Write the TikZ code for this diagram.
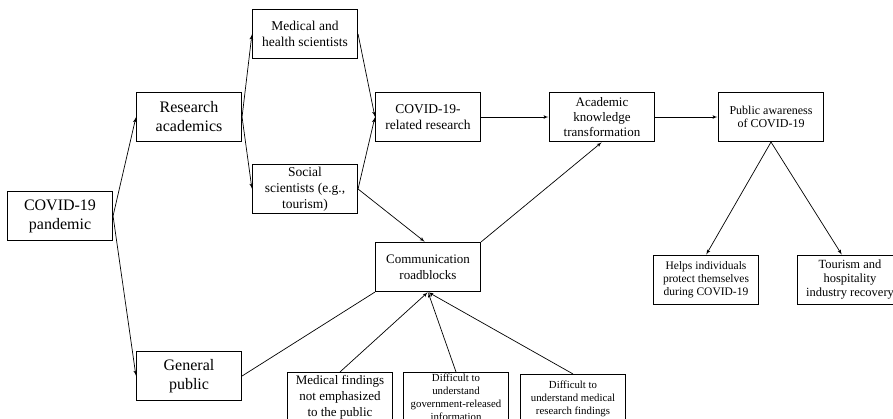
\documentclass[tikz,border=0pt]{standalone}
\usepackage{fontspec}
\setmainfont{Liberation Serif}
\usepackage{tikz}
\usetikzlibrary{arrows,positioning}
\tikzset{every picture/.style={
  >=latex'                      % LaTeX style arrows.
  }
}

\begin{document}
\begin{tikzpicture}[
    x=1pt,y=-1pt,
    box/.style={
      draw,
      line width=1.1pt,
      minimum width=105pt,
      minimum height=49pt,
      inner sep=1pt,
      align=center
    },
    big/.style={font=\fontsize{16}{19}\selectfont},
    mid/.style={font=\fontsize{13.5}{16}\selectfont},
    sml/.style={font=\fontsize{12}{13.5}\selectfont},
    tny/.style={font=\fontsize{10.8}{13}\selectfont},
    link/.style={->,line width=0.7pt,shorten >=0.5pt}
    ]

    \useasboundingbox (0,0) rectangle (893,418);

    % The chain of research boxes.
    \node[box,big] (pandemic) at (60,216) {COVID-19\\pandemic};
    \node[box,big] (research) at (189,117) {Research\\academics};
    \node[box,big] (public) at (189,376) {General\\public};
    \node[box,mid] (medsci) at (305,34) {Medical and\\health scientists};
    \node[box,mid] (socsci) at (305,189) {Social\\scientists (e.g.,\\tourism)};
    \node[box,mid] (covres) at (428,117) {COVID-19-\\related research};
    \node[box,mid,font=\fontsize{13}{15}\selectfont] (akt) at (602,117)
      {Academic\\knowledge\\transformation};
    \node[box,sml] (aware) at (771,117) {Public awareness\\of COVID-19};

    % Roadblocks and what feeds them.
    \node[box,mid,font=\fontsize{13}{16}\selectfont] (block) at (428,267)
      {Communication\\roadblocks};
    \node[box,mid,font=\fontsize{13}{16}\selectfont] (medfind) at (340,397)
      {Medical findings\\not emphasized\\to the public};
    \node[box,tny] (govinfo) at (456,397)
      {Difficult to\\understand\\government-released\\information};
    \node[box,tny] (medres) at (573,399)
      {Difficult to\\understand medical\\research findings};

    % Outcomes.
    \node[box,sml,font=\fontsize{11.5}{13}\selectfont] (helps) at (706,280)
      {Helps individuals\\protect themselves\\during COVID-19};
    \node[box,sml,font=\fontsize{12.5}{14}\selectfont] (tourism) at (850,280)
      {Tourism and\\hospitality\\industry recovery};

    % Draw the connectors.
    \draw[link] (pandemic.east) -- (research.west);
    \draw[link] (pandemic.east) -- (public.west);
    \draw[link] (research.east) -- (medsci.west);
    \draw[link] (research.east) -- (socsci.west);
    \draw[link] (medsci.east) -- (covres.west);
    \draw[link] (socsci.east) -- (covres.west);
    \draw[link] (socsci.east) -- ([xshift=-3pt] block.north);
    \draw[link] (covres) -- (akt);
    \draw[link] (akt) -- (aware);
    \draw[link] (block.north east) -- (akt.south);
    \draw[line width=0.7pt] (public.east) -- (block.south west);
    \draw[link] (medfind.north) -- (block.south);
    \draw[link] (govinfo.north) -- (block.south);
    \draw[link] (medres.north) -- (block.south);
    \draw[link] (aware.south) -- (helps.north);
    \draw[link] (aware.south) -- ([xshift=-8pt] tourism.north);
  \end{tikzpicture}
\end{document}
